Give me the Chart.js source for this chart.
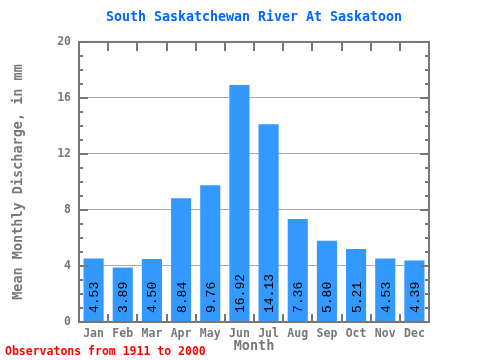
<!DOCTYPE html>
<html>
<head>
<meta charset="utf-8">
<script src="https://cdn.jsdelivr.net/npm/chart.js@4/dist/chart.umd.min.js"></script>
<style>
  html, body { margin: 0; padding: 0; background: #fff; }
  #wrap { width: 480px; height: 360px; }
</style>
</head>
<body>
<div id="wrap"><canvas id="myChart" width="480" height="360"></canvas></div>
<script>
const MONTHS = ["Jan", "Feb", "Mar", "Apr", "May", "Jun", "Jul", "Aug", "Sep", "Oct", "Nov", "Dec"];
const DISCHARGE = [4.53, 3.89, 4.50, 8.84, 9.76, 16.92, 14.13, 7.36, 5.80, 5.21, 4.53, 4.39];
const Y_MIN = 0;
const Y_MAX = 20;
const Y_STEP = 4;

const MONO = "'DejaVu Sans Mono', 'Liberation Mono', monospace";
const THIN_MONO = "'Liberation Mono', 'DejaVu Sans Mono', monospace";
const AXIS_GREY = "#777777";

// frame, inward tick marks, value labels and footer note
const decorations = {
    id: "decorations",
    afterDraw(chart) {
        const ctx = chart.ctx;
        const area = chart.chartArea;
        const xs = chart.scales.x;
        const ys = chart.scales.y;

        ctx.save();
        ctx.strokeStyle = AXIS_GREY;
        ctx.lineWidth = 2;
        ctx.strokeRect(area.left, area.top, area.right - area.left, area.bottom - area.top);

        ctx.beginPath();
        for (let v = Y_MIN; v <= Y_MAX; v++) {
            let py = Math.round(ys.getPixelForValue(v));
            let len = (v % Y_STEP == 0) ? 9 : 4;
            ctx.moveTo(area.left, py);
            ctx.lineTo(area.left + len, py);
            ctx.moveTo(area.right, py);
            ctx.lineTo(area.right - len, py);
        }
        for (let i = 1; i < MONTHS.length; i++) {
            let px = Math.round((xs.getPixelForValue(i - 1) + xs.getPixelForValue(i)) / 2);
            ctx.moveTo(px, area.bottom);
            ctx.lineTo(px, area.bottom - 8);
            ctx.moveTo(px, area.top);
            ctx.lineTo(px, area.top + 9);
        }
        ctx.stroke();

        // values written up the bars
        ctx.fillStyle = "#000";
        ctx.font = "13px " + THIN_MONO;
        ctx.textAlign = "left";
        ctx.textBaseline = "middle";
        let meta = chart.getDatasetMeta(0);
        meta.data.forEach((bar, i) => {
            ctx.save();
            ctx.translate(bar.x + 1, area.bottom - 9);
            ctx.rotate(-Math.PI / 2);
            ctx.fillText(DISCHARGE[i].toFixed(2), 0, 0);
            ctx.restore();
        });

        ctx.fillStyle = "#ff0000";
        ctx.font = "bold 11.5px " + MONO;
        ctx.fillText("Observatons from 1911 to 2000", 5, 352);
        ctx.restore();
    }
};

const ctx = document.getElementById("myChart").getContext("2d");

new Chart(ctx, {
    type: "bar",
    data: {
        labels: MONTHS,
        datasets: [{
            label: "Discharge",
            data: DISCHARGE,
            backgroundColor: "#3399ff",
            borderWidth: 0,
            categoryPercentage: 1.0,
            barPercentage: 0.69,
        }]
    },
    plugins: [decorations],
    options: {
        responsive: false,
        animation: false,
        layout: { padding: { left: 0, right: 51, top: 0, bottom: 0 } },
        plugins: {
            legend: { display: false },
            tooltip: { enabled: false },
            title: {
                display: true,
                fullSize: false,
                text: "South Saskatchewan River At Saskatoon",
                color: "#0066ff",
                font: { family: MONO, size: 13.3, weight: "bold" },
                padding: { top: 10, bottom: 16 }
            }
        },
        scales: {
            x: {
                grid: { display: false, drawTicks: false },
                border: { display: false },
                ticks: {
                    color: AXIS_GREY,
                    font: { family: MONO, size: 11.5, weight: "bold" },
                    padding: 5,
                    maxRotation: 0
                },
                title: {
                    display: true,
                    text: "Month",
                    color: AXIS_GREY,
                    font: { family: MONO, size: 13.5, weight: "bold" },
                    padding: { top: 0, bottom: 5 }
                },
                afterFit: (s) => { s.height = 38; }
            },
            y: {
                min: Y_MIN,
                max: Y_MAX,
                z: 1,
                border: { display: false },
                grid: {
                    drawTicks: false,
                    color: (c) => (c.tick.value == Y_MIN || c.tick.value == Y_MAX) ? "rgba(0,0,0,0)" : "#aaaaaa",
                    lineWidth: 1
                },
                ticks: {
                    stepSize: Y_STEP,
                    color: AXIS_GREY,
                    font: { family: MONO, size: 11.5, weight: "bold" },
                    padding: 8
                },
                title: {
                    display: true,
                    text: "Mean Monthly Discharge, in mm",
                    color: AXIS_GREY,
                    font: { family: MONO, size: 13.5, weight: "bold" },
                    padding: { top: 10, bottom: 0 }
                },
                afterFit: (s) => { s.width = 79; }
            }
        }
    }
});
</script>
</body>
</html>
